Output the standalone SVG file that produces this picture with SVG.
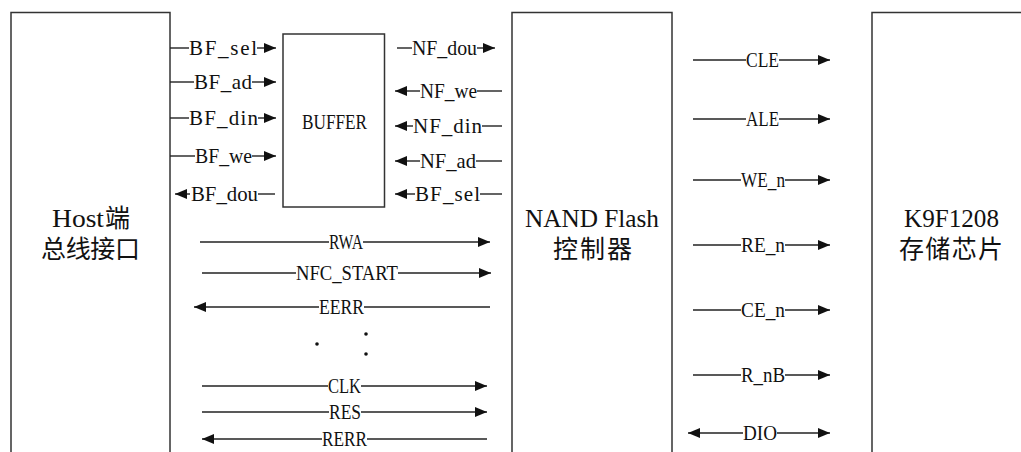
<svg xmlns="http://www.w3.org/2000/svg" width="1021" height="452" viewBox="0 0 1021 452">
<style>
.box{fill:#fff;stroke:#333;stroke-width:1.5}
.ln{stroke:#222;stroke-width:1.4;fill:none}
.lbl{font-family:"Liberation Serif","Times New Roman",serif;font-size:21px;fill:#111}
.big{font-family:"Liberation Serif","Times New Roman",serif;font-size:26px;fill:#111}
.cjk{font-family:"Noto Sans CJK SC",sans-serif;font-size:25px;fill:#111}
</style>
<defs>
<marker id="ah" markerUnits="userSpaceOnUse" markerWidth="12" markerHeight="10" refX="12" refY="5" orient="auto"><path d="M0,0 L12,5 L0,10 z" fill="#111"/></marker>
</defs>
<rect width="1021" height="452" fill="#fff"/>
<g id="host">
<rect class="box" x="11" y="12.5" width="159" height="460"/>
<text class="big" x="52" y="227" textLength="52" lengthAdjust="spacingAndGlyphs">Host</text>
<text class="cjk" x="105" y="227">端</text>
<text class="cjk" x="41" y="258" textLength="99">总线接口</text>
</g>
<g id="buffer">
<rect class="box" x="283" y="34" width="101.5" height="173"/>
<text class="lbl" x="302" y="129" textLength="65" lengthAdjust="spacingAndGlyphs">BUFFER</text>
</g>
<g id="nand">
<rect class="box" x="512" y="12.5" width="160" height="460"/>
<text class="big" x="525" y="227" textLength="134" lengthAdjust="spacingAndGlyphs">NAND Flash</text>
<text class="cjk" x="553" y="258" font-size="26" textLength="79">控制器</text>
</g>
<g id="k9f">
<rect class="box" x="872" y="12.5" width="170" height="460"/>
<text class="big" x="904" y="227" textLength="95" lengthAdjust="spacingAndGlyphs">K9F1208</text>
<text class="cjk" x="899" y="258" font-size="26" textLength="104">存储芯片</text>
</g>
<g id="connectors">
<line class="ln" x1="170" y1="48" x2="189" y2="48"/><line class="ln" x1="257" y1="48" x2="276" y2="48" marker-end="url(#ah)"/>
<line class="ln" x1="170" y1="82" x2="194" y2="82"/><line class="ln" x1="252" y1="82" x2="276" y2="82" marker-end="url(#ah)"/>
<line class="ln" x1="170" y1="118" x2="189" y2="118"/><line class="ln" x1="258" y1="118" x2="276" y2="118" marker-end="url(#ah)"/>
<line class="ln" x1="170" y1="156" x2="195" y2="156"/><line class="ln" x1="252" y1="156" x2="276" y2="156" marker-end="url(#ah)"/>
<line class="ln" x1="190" y1="194" x2="175" y2="194" marker-end="url(#ah)"/><line class="ln" x1="258" y1="194" x2="275" y2="194"/>
<line class="ln" x1="397" y1="48" x2="412" y2="48"/><line class="ln" x1="477" y1="48" x2="495" y2="48" marker-end="url(#ah)"/>
<line class="ln" x1="420" y1="91" x2="395" y2="91" marker-end="url(#ah)"/><line class="ln" x1="477" y1="91" x2="502" y2="91"/>
<line class="ln" x1="413" y1="126" x2="395" y2="126" marker-end="url(#ah)"/><line class="ln" x1="482" y1="126" x2="502" y2="126"/>
<line class="ln" x1="420" y1="161" x2="395" y2="161" marker-end="url(#ah)"/><line class="ln" x1="476" y1="161" x2="502" y2="161"/>
<line class="ln" x1="415" y1="194" x2="395" y2="194" marker-end="url(#ah)"/><line class="ln" x1="480" y1="194" x2="502" y2="194"/>
<line class="ln" x1="200" y1="242" x2="329" y2="242"/><line class="ln" x1="363" y1="242" x2="490" y2="242" marker-end="url(#ah)"/>
<line class="ln" x1="202" y1="273" x2="296" y2="273"/><line class="ln" x1="398" y1="273" x2="491" y2="273" marker-end="url(#ah)"/>
<line class="ln" x1="319" y1="307" x2="194" y2="307" marker-end="url(#ah)"/><line class="ln" x1="364" y1="307" x2="490" y2="307"/>
<line class="ln" x1="202" y1="386" x2="328" y2="386"/><line class="ln" x1="361" y1="386" x2="487" y2="386" marker-end="url(#ah)"/>
<line class="ln" x1="202" y1="412" x2="329" y2="412"/><line class="ln" x1="361" y1="412" x2="487" y2="412" marker-end="url(#ah)"/>
<line class="ln" x1="322" y1="439" x2="202" y2="439" marker-end="url(#ah)"/><line class="ln" x1="367" y1="439" x2="487" y2="439"/>
<line class="ln" x1="693" y1="60" x2="746" y2="60"/><line class="ln" x1="779" y1="60" x2="830" y2="60" marker-end="url(#ah)"/>
<line class="ln" x1="693" y1="119" x2="746" y2="119"/><line class="ln" x1="779" y1="119" x2="830" y2="119" marker-end="url(#ah)"/>
<line class="ln" x1="693" y1="180" x2="741" y2="180"/><line class="ln" x1="785" y1="180" x2="830" y2="180" marker-end="url(#ah)"/>
<line class="ln" x1="693" y1="245" x2="741" y2="245"/><line class="ln" x1="785" y1="245" x2="830" y2="245" marker-end="url(#ah)"/>
<line class="ln" x1="693" y1="310" x2="741" y2="310"/><line class="ln" x1="785" y1="310" x2="830" y2="310" marker-end="url(#ah)"/>
<line class="ln" x1="693" y1="375" x2="741" y2="375"/><line class="ln" x1="785" y1="375" x2="830" y2="375" marker-end="url(#ah)"/>
<line class="ln" x1="743" y1="433" x2="688" y2="433" marker-end="url(#ah)"/><line class="ln" x1="777" y1="433" x2="830" y2="433" marker-end="url(#ah)"/>
<circle cx="317" cy="344" r="1.8" fill="#111"/>
<circle cx="366" cy="334" r="1.8" fill="#111"/>
<circle cx="366" cy="354" r="1.8" fill="#111"/>
</g>
<g id="labels">
<text class="lbl" x="189" y="55" textLength="68">BF_sel</text>
<text class="lbl" x="194" y="89" textLength="58">BF_ad</text>
<text class="lbl" x="189" y="125" textLength="69">BF_din</text>
<text class="lbl" x="195" y="163" textLength="57" lengthAdjust="spacingAndGlyphs">BF_we</text>
<text class="lbl" x="191" y="201" textLength="67" lengthAdjust="spacingAndGlyphs">BF_dou</text>
<text class="lbl" x="412" y="55" textLength="65" lengthAdjust="spacingAndGlyphs">NF_dou</text>
<text class="lbl" x="420" y="98" textLength="57" lengthAdjust="spacingAndGlyphs">NF_we</text>
<text class="lbl" x="413" y="133" textLength="69">NF_din</text>
<text class="lbl" x="420" y="168" textLength="56" lengthAdjust="spacingAndGlyphs">NF_ad</text>
<text class="lbl" x="415" y="201" textLength="65">BF_sel</text>
<text class="lbl" x="329" y="249" textLength="34" lengthAdjust="spacingAndGlyphs">RWA</text>
<text class="lbl" x="296" y="280" textLength="102" lengthAdjust="spacingAndGlyphs">NFC_START</text>
<text class="lbl" x="319" y="314" textLength="45" lengthAdjust="spacingAndGlyphs">EERR</text>
<text class="lbl" x="328" y="393" textLength="33" lengthAdjust="spacingAndGlyphs">CLK</text>
<text class="lbl" x="329" y="419" textLength="32" lengthAdjust="spacingAndGlyphs">RES</text>
<text class="lbl" x="322" y="446" textLength="45" lengthAdjust="spacingAndGlyphs">RERR</text>
<text class="lbl" x="746" y="67" textLength="33" lengthAdjust="spacingAndGlyphs">CLE</text>
<text class="lbl" x="746" y="126" textLength="33" lengthAdjust="spacingAndGlyphs">ALE</text>
<text class="lbl" x="741" y="187" textLength="44" lengthAdjust="spacingAndGlyphs">WE_n</text>
<text class="lbl" x="741" y="252" textLength="44" lengthAdjust="spacingAndGlyphs">RE_n</text>
<text class="lbl" x="741" y="317" textLength="44" lengthAdjust="spacingAndGlyphs">CE_n</text>
<text class="lbl" x="741" y="382" textLength="44" lengthAdjust="spacingAndGlyphs">R_nB</text>
<text class="lbl" x="743" y="440" textLength="34" lengthAdjust="spacingAndGlyphs">DIO</text>
</g>
</svg>
